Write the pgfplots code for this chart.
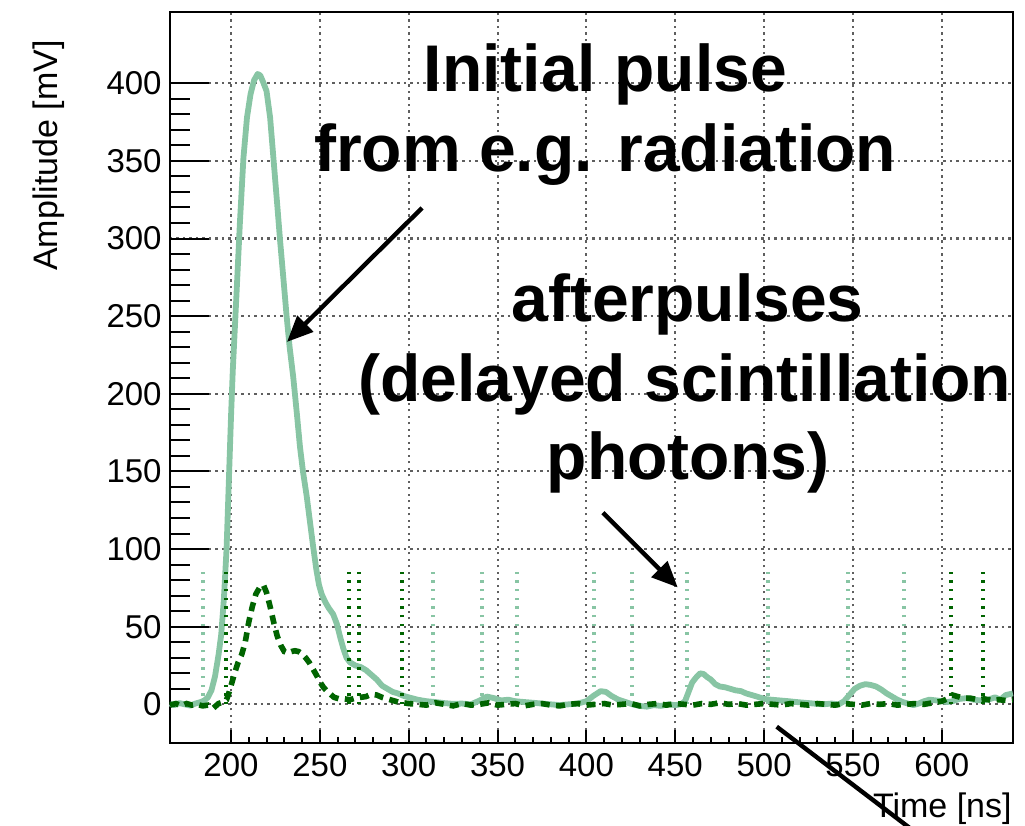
\documentclass[border=0pt]{standalone}
\usepackage{pgfplots}
\pgfplotsset{compat=1.18}
\usepackage{fontspec}
\setmainfont{Liberation Sans}
\usetikzlibrary{arrows.meta}
\definecolor{lightg}{RGB}{136,197,164}
\definecolor{darkg}{RGB}{0,100,0}
\definecolor{gridc}{RGB}{95,95,95}
\begin{document}
\begin{tikzpicture}
\useasboundingbox (0,0) rectangle (512.5pt,413pt);
\begin{axis}[
  at={(85pt,41.5pt)}, anchor=south west,
  width=421.5pt, height=365.5pt, scale only axis,
  xmin=165.67, xmax=640.07, ymin=-24.9, ymax=445.9,
  xtick={200,250,...,600}, ytick={0,50,...,400},
  minor x tick num=4, minor y tick num=4,
  tick align=inside, xtick pos=left, ytick pos=left,
  xtick style={/pgfplots/major tick length=6.5pt,/pgfplots/minor tick length=3pt,line width=1pt,black},
  ytick style={/pgfplots/major tick length=19.5pt,/pgfplots/minor tick length=10pt,line width=1pt,black},
  axis line style={line width=1pt},
  grid=major,
  major grid style={gridc, line width=1.05pt, dash pattern=on 1.05pt off 2.2pt},
  /pgf/number format/assume math mode=true,
  tick label style={font=\fontsize{16.5}{18}\selectfont},
  xticklabel style={inner sep=0pt, yshift=-5pt},
  yticklabel style={inner sep=0pt, xshift=-4pt},
  clip=false,
]
% light marker lines
\addplot[ycomb, no marks, lightg, line width=1.9pt, dash pattern=on 1.2pt off 3.15pt]
  coordinates {(184.1,85) (313.5,85) (341.4,85) (360.8,85) (404.4,85) (425.5,85) (456.4,85) (502.4,85) (547.0,85) (578.9,85)};
% light solid waveform
\addplot[no marks, lightg, line width=2.9pt, line join=round] coordinates {
(165.7,0.5) (168,-0.5) (171,0.8) (174,0) (177,-0.8) (180,0.5) (183,1.5) (185,2.5) (187,4.5) (189,9)
(191,18) (193,32) (194.5,45) (196,68) (197.5,100) (198.5,134) (200,185) (201,215) (203,262) (205,310)
(207,352) (209,378) (211,393) (213,402) (215,406) (216.5,405) (218,401) (220,395) (222,378) (224,350)
(226,322) (227.6,299) (229.5,274) (231.3,250) (233,230) (235,211) (237,188) (238.8,166) (240.5,150)
(242.6,134) (244.5,117) (246.3,101) (248,87) (249.5,77) (251,71) (253,66) (255,62) (257.5,58) (259.5,52)
(261.5,43) (263.2,36) (265,30) (267,27) (270,25) (273,24) (276,22) (279,19) (282,16) (285,12) (288,10)
(291,8) (294,7) (297,5.5) (300,4.5) (305,3) (310,2) (315,1.5) (320,0.8) (325,0.3) (330,0.5) (335,0)
(340,2.5) (344,5) (348,4) (352,2.5) (356,3) (360,2) (365,1.5) (370,1) (375,0.5) (380,0) (385,-0.5)
(390,0) (395,0.5) (400,2) (404,5.5) (408,8.5) (411,8) (414,5.5) (418,3) (422,1.5) (426,0) (430,-1)
(434,-1.5) (438,-0.5) (442,-1) (446,0) (450,-0.5) (453,0) (455.5,2) (457.5,8) (459.5,14) (461.5,17)
(464,20) (466,19.5) (468,17.5) (470,16) (472.5,13) (475,11.5) (478,11) (481,10) (484,9) (487,8.5)
(490,7) (493,6) (496,5) (500,3.5) (504,3) (509,2.5) (514,2) (518,1.5) (523,1) (528,0.5) (533,0)
(538,0.5) (542,0) (545,2) (548,6) (551,10) (554,12) (557,13) (560,12.5) (563,11.5) (566,9.5) (569,7)
(572,5) (575,3) (578,1.5) (581,0.5) (584,-0.5) (587,0.5) (590,2) (593,3) (597,2.5) (600,2) (603,1.5)
(606,2) (610,3.5) (614,4) (618,3) (622,2.5) (626,3) (630,4.5) (633,3) (636,6) (640,7)
};
% dark marker lines
\addplot[ycomb, no marks, darkg, line width=1.9pt, dash pattern=on 1.2pt off 3.15pt]
  coordinates {(197.2,85) (266.6,85) (271.9,85) (296.4,85) (605.3,85) (623.4,85)};
% dark dashed waveform
\addplot[no marks, darkg, line width=2.8pt, dash pattern=on 4.5pt off 3.2pt] coordinates {
(165.7,-0.5) (169,0.5) (172,-1) (175,0.5) (178,-0.5) (181,0) (184,-1) (187,-0.5) (190,-2.5) (193,0.5)
(195.5,1.5) (197.5,3) (199,8) (200.5,14) (202,20) (204,27) (206,32) (208,40) (210,53) (212,63) (214,71)
(216,75) (218.2,77) (220,72) (222,63) (224,53) (226,44) (228,38) (230,34) (232,33) (234,34) (236,34.5)
(238,34) (240,32.5) (242,30) (244,27) (246,23) (248,19) (250,14.5) (252,11) (254,8.5) (256,6.5)
(258,4.5) (261,3.5) (264,3.5) (267,3) (270,4) (273,4.5) (276,5) (279,6.5) (282,6) (285,4.5) (288,3.5)
(291,2.5) (294,1.5) (297,1) (300,0.5) (305,0) (310,-0.5) (315,1) (320,0) (325,-1) (330,0.5) (335,-0.5)
(340,0) (345,1) (350,-0.5) (355,0) (360,0.5) (365,-1) (370,0) (375,0.5) (380,-0.5) (385,-1) (390,0)
(395,0.5) (400,-0.5) (405,0) (410,0.5) (415,-0.5) (420,0) (425,0.5) (430,-1) (435,0) (440,0.5)
(445,-0.5) (450,0.5) (455,0) (460,-0.5) (465,0.5) (470,0) (475,1) (480,0) (485,0.5) (490,-0.5) (495,0)
(500,0.5) (505,0) (510,-0.5) (515,0.5) (520,0) (525,-0.5) (530,0.5) (535,0) (540,-0.5) (545,0.5)
(550,0) (555,-0.5) (560,0.5) (565,0) (570,0.5) (575,-0.5) (580,0) (585,0.5) (590,0) (595,1) (600,2)
(603,3.5) (606,6) (609,5) (612,4) (616,4) (620,3) (624,3.5) (628,2.5) (632,3) (636,2.5) (640,3)
};
% axis titles
\node[rotate=90, anchor=base east, inner sep=0pt, font=\fontsize{17}{20}\selectfont] at (axis cs:102.6,427.9) {Amplitude [mV]};
\node[anchor=base east, inner sep=0pt, font=\fontsize{17}{20}\selectfont] at (axis cs:639.5,-73.2) {Time [ns]};
% annotations
\node[anchor=base, inner sep=0pt, font=\fontsize{33}{40}\selectfont\bfseries] at (axis cs:410.6,395.0) {Initial pulse};
\node[anchor=base, inner sep=0pt, font=\fontsize{33}{40}\selectfont\bfseries] at (axis cs:410.6,342.9) {from e.g. radiation};
\node[anchor=base, inner sep=0pt, font=\fontsize{33}{40}\selectfont\bfseries] at (axis cs:456.9,246.4) {afterpulses};
\node[anchor=base west, inner sep=0pt, font=\fontsize{33}{40}\selectfont\bfseries] at (axis cs:271.5,194.9) {(delayed scintillation};
\node[anchor=base, inner sep=0pt, font=\fontsize{33}{40}\selectfont\bfseries] at (axis cs:457.2,144.5) {photons)};
\draw[line width=2.2pt, -{Triangle[length=13pt,width=11pt]}] (axis cs:307.5,319.7) -- (axis cs:231.5,233.4);
\draw[line width=2.2pt, -{Triangle[length=13pt,width=11pt]}] (axis cs:409.3,123.4) -- (axis cs:451.4,75.3);
\draw[line width=2.2pt, -{Triangle[length=13pt,width=11pt]}] (axis cs:507.1,-14.4) -- (axis cs:599,-94.5);
\end{axis}
\end{tikzpicture}
\end{document}
